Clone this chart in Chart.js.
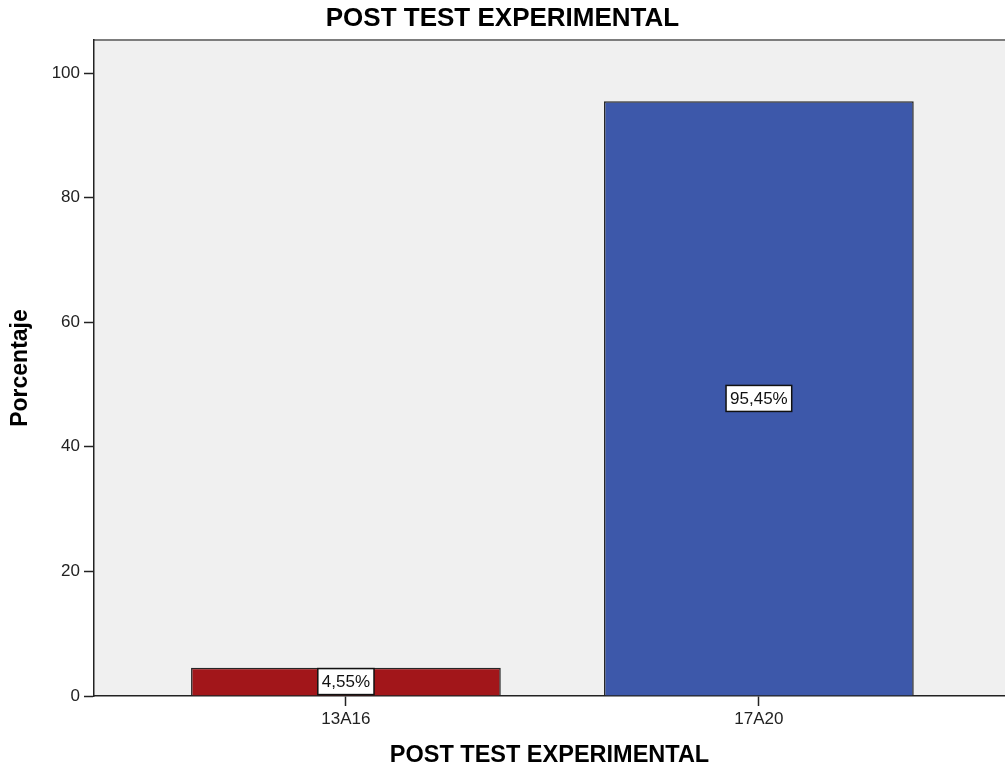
<!doctype html>
<html>

<head>
	<title>POST TEST EXPERIMENTAL</title>
	<script src="https://cdn.jsdelivr.net/npm/chart.js@4/dist/chart.umd.min.js"></script>
	<style>
	body {
		margin: 0;
		background: #fff;
	}
	</style>
</head>

<body>
	<canvas id="chart" width="1005" height="772"></canvas>
	<script>
		var categories = ['13A16', '17A20'];
		var percentages = [4.55, 95.45];
		var barColors = ['#A2161A', '#3D58AA'];
		var yTicks = [0, 20, 40, 60, 80, 100];

		var fontFamily = '"Liberation Sans", Arial, sans-serif';

		// gray plot background and the grey top frame line
		var plotBackground = {
			id: 'plotBackground',
			beforeDraw: function(chart) {
				var a = chart.chartArea;
				var ctx = chart.ctx;
				ctx.save();
				ctx.fillStyle = '#F0F0F0';
				ctx.fillRect(a.left, a.top, a.right - a.left, a.bottom - a.top);
				ctx.strokeStyle = '#7d7d7d';
				ctx.lineWidth = 2;
				ctx.beginPath();
				ctx.moveTo(a.left, a.top);
				ctx.lineTo(a.right, a.top);
				ctx.stroke();
				ctx.restore();
			}
		};

		// boxed value labels in the middle of each bar
		var boxLabels = {
			id: 'boxLabels',
			afterDatasetsDraw: function(chart) {
				var ctx = chart.ctx;
				var meta = chart.getDatasetMeta(0);
				ctx.save();
				ctx.font = '17px ' + fontFamily;
				ctx.textAlign = 'center';
				ctx.textBaseline = 'middle';
				meta.data.forEach(function(bar, i) {
					var p = bar.getProps(['x', 'y', 'base'], true);
					var text = percentages[i].toFixed(2).replace('.', ',') + '%';
					var w = ctx.measureText(text).width + 8;
					var h = 26;
					var cy = (p.y + p.base) / 2;
					ctx.fillStyle = '#fff';
					ctx.fillRect(p.x - w / 2, cy - h / 2, w, h);
					ctx.strokeStyle = '#111';
					ctx.lineWidth = 1.5;
					ctx.strokeRect(p.x - w / 2, cy - h / 2, w, h);
					ctx.fillStyle = '#111';
					ctx.fillText(text, p.x, cy + 1);
				});
				ctx.restore();
			}
		};

		var ctx = document.getElementById('chart').getContext('2d');
		new Chart(ctx, {
			type: 'bar',
			data: {
				datasets: [{
					data: percentages.map(function(v, i) {
						return {x: i + 1, y: v};
					}),
					backgroundColor: barColors,
					borderColor: '#262626',
					borderWidth: 1.5,
					barPercentage: 0.75,
					categoryPercentage: 1
				}]
			},
			options: {
				responsive: false,
				animation: false,
				layout: {padding: 0},
				plugins: {
					legend: {display: false},
					tooltip: {enabled: false},
					title: {
						display: true,
						text: 'POST TEST EXPERIMENTAL',
						color: '#000',
						font: {family: fontFamily, size: 26, weight: 'bold'},
						padding: {top: 3, bottom: 5.8}
					}
				},
				scales: {
					x: {
						type: 'linear',
						min: 0.39,
						max: 2.596,
						offset: false,
						afterBuildTicks: function(scale) {
							scale.ticks = categories.map(function(c, i) {
								return {value: i + 1};
							});
						},
						afterFit: function(scale) {
							scale.height = 76;
						},
						ticks: {
							autoSkip: false,
							maxRotation: 0,
							padding: 3,
							color: '#222',
							font: {family: fontFamily, size: 17},
							callback: function(value) {
								return categories[value - 1];
							}
						},
						grid: {
							offset: false,
							drawOnChartArea: false,
							drawTicks: true,
							tickLength: 10,
							tickColor: '#222',
							tickWidth: 1.5
						},
						border: {color: '#222', width: 1.5},
						title: {
							display: true,
							text: 'POST TEST EXPERIMENTAL',
							color: '#000',
							font: {family: fontFamily, size: 23.5, weight: 'bold'},
							padding: {top: 0, bottom: 2}
						}
					},
					y: {
						min: 0,
						max: 105.3,
						afterBuildTicks: function(scale) {
							scale.ticks = yTicks.map(function(v) {
								return {value: v};
							});
						},
						afterFit: function(scale) {
							scale.width = 94;
						},
						ticks: {
							padding: 4,
							color: '#222',
							font: {family: fontFamily, size: 17}
						},
						grid: {
							drawOnChartArea: false,
							drawTicks: true,
							tickLength: 10,
							tickColor: '#222',
							tickWidth: 1.5
						},
						border: {color: '#222', width: 1.5},
						title: {
							display: true,
							text: 'Porcentaje',
							color: '#000',
							font: {family: fontFamily, size: 23, weight: 'bold'},
							padding: {top: 7, bottom: 0}
						}
					}
				}
			},
			plugins: [plotBackground, boxLabels]
		});
	</script>
</body>

</html>
